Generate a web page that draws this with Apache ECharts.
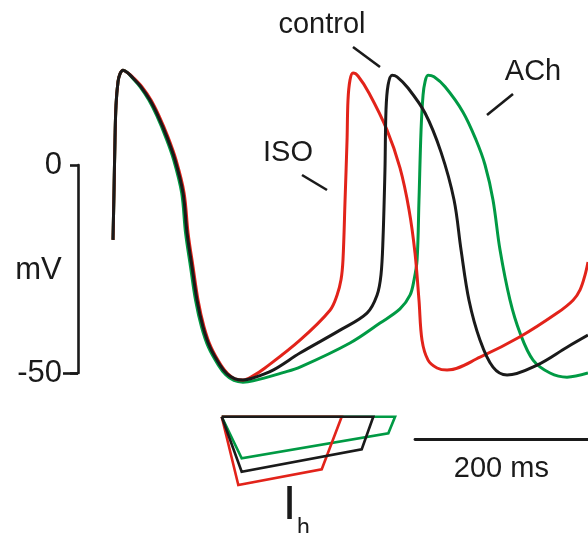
<!DOCTYPE html>
<html>
<head>
<meta charset="utf-8">
<script src="https://cdn.jsdelivr.net/npm/echarts@6/dist/echarts.min.js"></script>
<style>
  html, body { margin: 0; padding: 0; background: #fff; }
  #main { width: 588px; height: 533px; }
</style>
</head>
<body>
<div id="main"></div>
<script>
// membrane potential traces: time (ms) and voltage (mV)
const controlT = [0, 1.2, 2.3, 3.5, 5.8, 8.1, 11.6, 17.4, 23.2, 32.4, 42.8, 52.1, 62.5, 71.8, 81.1, 85.7, 91.5, 97.3, 104.2, 112.3, 123.9, 132.0, 141.3, 150.5, 162.1, 185.3, 216.5, 262.9, 294.1, 305.7, 310.3, 312.6, 314.9, 316.1, 318.5, 323.1, 328.9, 341.6, 361.3, 379.8, 394.9, 403.0, 412.2, 425.0, 440.0, 456.3, 491.0, 525.7, 550];
const controlV = [-18.0, -6.0, 6.0, 14.4, 20.0, 21.9, 22.8, 22.1, 20.9, 18.8, 15.6, 11.8, 6.7, 1.2, -6.7, -16.3, -24.5, -32.5, -38.9, -43.8, -48.1, -50.2, -51.4, -51.7, -51.2, -49.3, -45.2, -39.7, -35.6, -31.3, -26.4, -18.0, -1.2, 13.2, 19.2, 21.6, 21.2, 18.5, 12.5, 3.1, -8.4, -20.4, -32.5, -42.1, -48.6, -50.5, -48.1, -43.8, -40.9];

const isoT = [0, 1.2, 2.3, 3.5, 5.8, 8.1, 11.6, 17.4, 24.0, 33.4, 44.0, 53.3, 63.7, 73.0, 82.3, 86.9, 92.7, 98.5, 105.4, 113.5, 125.0, 133.0, 141.3, 150.5, 162.1, 176.0, 216.5, 251.3, 259.4, 264.0, 266.3, 268.7, 271.0, 272.1, 274.4, 277.9, 283.7, 296.4, 317.3, 332.3, 342.8, 349.7, 354.3, 357.8, 364.8, 375.2, 386.8, 425.0, 471.3, 514.2, 532.7, 540.8, 546.6, 550];
const isoV = [-18.0, -6.0, 6.0, 14.4, 20.0, 21.9, 22.8, 22.1, 20.9, 18.8, 15.6, 11.8, 6.7, 1.2, -6.7, -16.3, -24.5, -32.5, -38.9, -43.8, -48.1, -50.2, -51.4, -51.7, -50.7, -48.8, -42.1, -34.9, -31.3, -27.6, -22.8, -8.4, 6.0, 15.6, 20.4, 22.1, 21.4, 17.3, 8.4, -0.7, -10.8, -21.2, -32.5, -42.1, -46.9, -48.8, -49.3, -46.2, -41.3, -35.6, -32.5, -30.0, -26.4, -23.3];

const achT = [0, 1.2, 2.3, 3.5, 5.8, 8.1, 11.6, 17.4, 22.5, 31.4, 41.5, 50.8, 61.0, 70.3, 79.5, 84.0, 89.8, 95.6, 102.5, 110.5, 122.0, 130.5, 140.0, 150.5, 162.1, 196.9, 216.5, 274.4, 309.2, 332.3, 343.9, 348.6, 352.1, 354.3, 356.7, 359.0, 361.3, 364.8, 371.7, 384.5, 405.3, 420.4, 430.8, 440.0, 448.1, 459.7, 471.3, 486.4, 506.0, 525.7, 550];
const achV = [-18.0, -6.0, 6.0, 14.4, 20.0, 21.9, 22.8, 22.1, 20.9, 18.8, 15.6, 11.8, 6.7, 1.2, -6.7, -16.3, -24.5, -32.5, -38.9, -43.8, -48.1, -50.4, -51.8, -52.2, -51.9, -49.9, -48.6, -42.8, -38.0, -34.6, -31.3, -27.6, -22.8, -8.4, 8.4, 16.8, 20.0, 21.6, 21.2, 18.8, 12.7, 6.0, 0, -8.4, -20.4, -32.5, -40.4, -46.9, -50.0, -51.0, -50.0];

// schematic Ih current (arbitrary units), closed outlines
const ihIsoT = [125.9, 264.8, 241.7, 145.1, 125.9];
const ihIsoI = [0, 0, -52.6, -68.3, 0];
const ihControlT = [125.9, 301.4, 288.0, 149.0, 125.9];
const ihControlI = [0, 0, -32.6, -55.0, 0];
const ihAchT = [125.9, 326.6, 318.8, 149.0, 125.9];
const ihAchI = [0, 0, -16.6, -41.6, 0];

// scale bars
const mvBar = [-50, 0];
const msBar = 200;

const RED = '#e2231a';
const BLACK = '#1a1a1a';
const GREEN = '#009a44';
const FONT = 'Liberation Sans, Arial, sans-serif';

const pairs = (t, v) => t.map((x, i) => [x, v[i]]);

const chart = echarts.init(document.getElementById('main'));

const hiddenX = (gi, max) => ({
    type: 'value', gridIndex: gi, min: 0, max: max, show: false
});
const hiddenY = (gi, min, max) => ({
    type: 'value', gridIndex: gi, min: min, max: max, show: false
});
const trace = (name, data, color) => ({
    name: name, type: 'line', xAxisIndex: 0, yAxisIndex: 0,
    data: data, showSymbol: false, symbol: 'none', clip: false,
    smooth: 0.35,
    lineStyle: { color: color, width: 3 }
});
const outline = (name, data, color) => ({
    name: name, type: 'line', xAxisIndex: 2, yAxisIndex: 2,
    data: data, showSymbol: false, symbol: 'none', clip: false,
    lineStyle: { color: color, width: 2.6, join: 'miter' }
});

const option = {
    animation: false,
    backgroundColor: '#fff',
    grid: [
        { left: 113, width: 475, top: 40.2, height: 374.4, outerBoundsMode: 'none' },   // action potentials
        { left: 78, width: 10, top: 165, height: 208, outerBoundsMode: 'none' },        // mV scale bar
        { left: 113, width: 475, top: 416.7, height: 70, outerBoundsMode: 'none' },     // Ih
        { left: 415, width: 172.7, top: 438, height: 1, outerBoundsMode: 'none' }       // time scale bar
    ],
    xAxis: [
        hiddenX(0, 550),
        hiddenX(1, 1),
        hiddenX(2, 550),
        {
            type: 'value', gridIndex: 3, min: 0, max: msBar, position: 'bottom',
            axisLine: { show: true, lineStyle: { color: BLACK, width: 2.8 } },
            axisTick: { show: false }, axisLabel: { show: false }, splitLine: { show: false },
            name: msBar + ' ms', nameLocation: 'middle', nameGap: 15,
            nameTextStyle: { color: BLACK, fontSize: 29, fontFamily: FONT }
        }
    ],
    yAxis: [
        hiddenY(0, -60, 30),
        {
            type: 'value', gridIndex: 1, min: mvBar[0], max: mvBar[1], interval: 50, position: 'left',
            axisLine: { show: true, onZero: false, lineStyle: { color: BLACK, width: 2.6 } },
            axisTick: { show: true, length: 8, lineStyle: { color: BLACK, width: 2.6 } },
            axisLabel: { color: BLACK, fontSize: 31, fontFamily: FONT, margin: 16 },
            splitLine: { show: false }
        },
        hiddenY(2, -70, 0),
        hiddenY(3, 0, 1),
        {
            // longer tick joining the -50 label to the bar
            type: 'value', gridIndex: 1, min: mvBar[0], max: mvBar[1], position: 'left',
            axisLine: { show: false, onZero: false },
            axisTick: { show: true, length: 15, customValues: [mvBar[0]], lineStyle: { color: BLACK, width: 2.6 } },
            axisLabel: { show: false }, splitLine: { show: false }
        }
    ],
    series: [
        trace('ACh', pairs(achT, achV), GREEN),
        trace('ISO', pairs(isoT, isoV), RED),
        trace('control', pairs(controlT, controlV), BLACK),
        outline('Ih ACh', pairs(ihAchT, ihAchI), GREEN),
        outline('Ih ISO', pairs(ihIsoT, ihIsoI), RED),
        outline('Ih control', pairs(ihControlT, ihControlI), BLACK)
    ],
    graphic: [
        { type: 'text', style: { text: 'mV', x: 38.5, y: 270, fill: BLACK, font: '31px ' + FONT, textAlign: 'center', textVerticalAlign: 'middle' } },
        { type: 'text', style: { text: 'control', x: 322, y: 25, fill: BLACK, font: '29px ' + FONT, textAlign: 'center', textVerticalAlign: 'middle' } },
        { type: 'text', style: { text: 'ISO', x: 288, y: 153, fill: BLACK, font: '29px ' + FONT, textAlign: 'center', textVerticalAlign: 'middle' } },
        { type: 'text', style: { text: 'ACh', x: 533, y: 72, fill: BLACK, font: '29px ' + FONT, textAlign: 'center', textVerticalAlign: 'middle' } },
        { type: 'line', shape: { x1: 353, y1: 47, x2: 380, y2: 67 }, style: { stroke: BLACK, lineWidth: 2.6 } },
        { type: 'line', shape: { x1: 302, y1: 175, x2: 327, y2: 190 }, style: { stroke: BLACK, lineWidth: 2.6 } },
        { type: 'line', shape: { x1: 513, y1: 94, x2: 487, y2: 115 }, style: { stroke: BLACK, lineWidth: 2.6 } },
        { type: 'text', style: { text: 'I', x: 289.5, y: 505, fill: BLACK, font: '49px ' + FONT, textAlign: 'center', textVerticalAlign: 'middle' } },
        { type: 'text', style: { text: 'h', x: 303.5, y: 529, fill: BLACK, font: '23px ' + FONT, textAlign: 'center', textVerticalAlign: 'middle' } }
    ]
};

chart.setOption(option);
</script>
</body>
</html>
